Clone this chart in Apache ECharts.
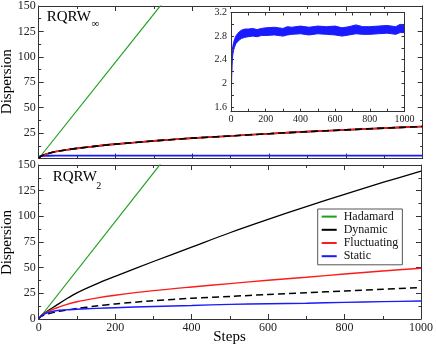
<!DOCTYPE html>
<html><head><meta charset="utf-8">
<script src="https://cdn.jsdelivr.net/npm/echarts@6/dist/echarts.min.js"></script>
<style>html,body{margin:0;padding:0;background:#fff}#c{width:436px;height:347px}</style>
</head><body><div id="c"></div>
<script>
// ---- data ----
const hadamardX = [0, 1000];
const hadamardY = [0, 474];

const stepsA = [0, 5, 10, 25, 45, 70, 100, 150, 200, 300, 400, 500, 600, 700, 800, 900, 1000];
// top panel (RQRW_inf): dynamic/fluctuating coincide with the diffusive reference
const topDiffusive = [0, 2.0, 3.0, 5.0, 6.8, 8.4, 10.0, 12.2, 14.1, 17.3, 20.0, 22.2, 24.4, 26.4, 28.2, 29.9, 31.5];
const topStatic    = [1.6, 2.3, 2.5, 2.7, 2.78, 2.8, 2.82, 2.84, 2.85, 2.86, 2.88, 2.88, 2.89, 2.89, 2.9, 2.9, 2.9];
// bottom panel (RQRW_2)
const botDynamic     = [0, 2.5, 4.3, 8.3, 13.0, 19.0, 25.5, 34.0, 41.5, 56.0, 70.0, 84.0, 97.0, 109.5, 121.5, 133.0, 144.0];
const botFluctuating = [0, 2.6, 4.3, 7.5, 10.5, 13.8, 16.8, 20.3, 23.1, 27.6, 31.2, 34.5, 37.7, 40.7, 43.8, 46.7, 49.5];
const botReference   = [0, 2.2, 3.2, 5.0, 6.9, 8.5, 10.2, 12.6, 14.7, 17.8, 20.2, 22.0, 23.9, 25.6, 27.3, 29.0, 30.6];
const botStatic      = [0, 2.5, 4.0, 6.3, 8.1, 8.9, 9.5, 10.3, 11.0, 12.2, 13.2, 14.2, 14.9, 15.4, 16.2, 16.9, 17.5];

// inset: static dispersion (noisy band envelope)
const insetX     = [0, 1, 2, 4, 6, 8, 10, 15, 20, 25, 30, 40, 50, 60, 80, 100, 125, 150, 175, 200, 250, 300, 325, 350, 400, 450, 500, 550, 600, 640, 680, 720, 760, 800, 850, 900, 950, 975, 1000];
const insetUpper = [1.60, 1.85, 2.05, 2.30, 2.47, 2.57, 2.62, 2.69, 2.74, 2.78, 2.81, 2.85, 2.88, 2.90, 2.92, 2.92, 2.93, 2.91, 2.93, 2.94, 2.95, 2.93, 2.96, 2.95, 2.97, 2.95, 2.97, 2.96, 2.97, 2.94, 2.96, 2.99, 2.96, 2.96, 2.97, 2.98, 2.96, 3.00, 2.97];
const insetLower = [1.52, 1.60, 1.85, 2.12, 2.30, 2.42, 2.48, 2.56, 2.61, 2.65, 2.68, 2.71, 2.74, 2.76, 2.78, 2.79, 2.80, 2.79, 2.81, 2.81, 2.82, 2.80, 2.82, 2.83, 2.84, 2.82, 2.84, 2.83, 2.82, 2.80, 2.82, 2.84, 2.83, 2.83, 2.84, 2.85, 2.83, 2.86, 2.86];

const xTicks = [0, 200, 400, 600, 800, 1000];
const yTicks = [0, 25, 50, 75, 100, 125, 150];
const insetYLabels = [1.6, 2, 2.4, 2.8, 3.2];
const insetYTicks = [1.6, 1.8, 2.0, 2.2, 2.4, 2.6, 2.8, 3.0, 3.2];

const legendNames = ['Hadamard', 'Dynamic', 'Fluctuating', 'Static'];
const colors = {Hadamard: '#1f9e1f', Dynamic: '#000000', Fluctuating: '#ff1a1a', Static: '#1a1aff'};

const FONT = 'Liberation Serif';
const AX = '#333';

function pairs(xs, ys) { return xs.map((x, i) => [x, ys[i]]); }

function xAxis(grid, pos, showLabel, fs, iv, tickLen, minorLen, max) {
  return {
    type: 'value', gridIndex: grid, position: pos, min: 0, max: max, interval: iv,
    axisLine: {show: true, onZero: false, lineStyle: {color: AX, width: 1}},
    axisTick: {show: true, inside: true, length: tickLen, lineStyle: {color: AX}},
    minorTick: {show: true, splitNumber: 2, length: minorLen, lineStyle: {color: AX}},
    splitLine: {show: false}, minorSplitLine: {show: false},
    axisLabel: {show: showLabel, fontFamily: FONT, fontSize: fs, color: '#222', margin: 3,
      formatter: v => String(v)}
  };
}
function yAxis(grid, pos, showLabel, hideZero) {
  return {
    type: 'value', gridIndex: grid, position: pos, min: 0, max: 150, interval: 25,
    axisLine: {show: true, onZero: false, lineStyle: {color: AX, width: 1}},
    axisTick: {show: true, inside: true, length: 5, lineStyle: {color: AX}},
    minorTick: {show: true, splitNumber: 2, length: 2.5, lineStyle: {color: AX}},
    splitLine: {show: false},
    axisLabel: {show: showLabel, fontFamily: FONT, fontSize: 12, color: '#222', margin: 3,
      formatter: v => (hideZero && v === 0) ? '' : String(v)}
  };
}
function insetY(pos, showLabel) {
  return {
    type: 'value', gridIndex: 2, position: pos, min: 1.52, max: 3.2,
    axisLine: {show: true, onZero: false, lineStyle: {color: AX, width: 1}},
    axisTick: {show: true, inside: true, length: 3, customValues: insetYTicks, lineStyle: {color: AX}},
    splitLine: {show: false},
    axisLabel: {show: showLabel, customValues: insetYLabels, fontFamily: FONT, fontSize: 10, color: '#222', margin: 4,
      formatter: v => String(v)}
  };
}

function line(name, xi, yi, data, color, width, dash, z) {
  return {
    name: name, type: 'line', xAxisIndex: xi, yAxisIndex: yi, data: data,
    showSymbol: false, symbol: 'none', smooth: 0.3, clip: true, z: z || 2,
    lineStyle: {color: color, width: width, type: dash || 'solid'},
    itemStyle: {color: color}, emphasis: {disabled: true}
  };
}

const series = [
  // top panel
  line('Hadamard', 0, 0, pairs(hadamardX, hadamardY), colors.Hadamard, 1.2),
  line('Dynamic', 0, 0, pairs(stepsA, topDiffusive), colors.Dynamic, 1.6),
  line('Fluctuating', 0, 0, pairs(stepsA, topDiffusive), colors.Fluctuating, 1.6, 'solid', 3),
  line('ref', 0, 0, pairs(stepsA, topDiffusive), '#000', 1.6, [7, 4], 4),
  line('Static', 0, 0, pairs(stepsA, topStatic), colors.Static, 1.8),
  // bottom panel
  line('Hadamard', 2, 2, pairs(hadamardX, hadamardY), colors.Hadamard, 1.2),
  line('Dynamic', 2, 2, pairs(stepsA, botDynamic), colors.Dynamic, 1.3),
  line('Fluctuating', 2, 2, pairs(stepsA, botFluctuating), colors.Fluctuating, 1.4),
  line('ref', 2, 2, pairs(stepsA, botReference), '#000', 1.5, [7, 4]),
  line('Static', 2, 2, pairs(stepsA, botStatic), colors.Static, 1.4),
  // inset band
  {
    name: 'insetStatic', type: 'custom', xAxisIndex: 4, yAxisIndex: 4, data: [[500, 2.9]],
    clip: true, silent: true, z: 5,
    renderItem: function (params, api) {
      const pts = [];
      for (let i = 0; i < insetX.length; i++) pts.push(api.coord([insetX[i], insetUpper[i]]));
      for (let i = insetX.length - 1; i >= 0; i--) pts.push(api.coord([insetX[i], insetLower[i]]));
      return {type: 'polygon', shape: {points: pts}, style: {fill: colors.Static, stroke: colors.Static, lineWidth: 1}};
    }
  }
];

const option = {
  animation: false,
  backgroundColor: '#fff',
  grid: [
    {left: 38.7, top: 5.5, width: 384, height: 153},
    {left: 38.7, top: 165, width: 384, height: 154},
    {left: 231, top: 12.5, width: 173.5, height: 99.2, show: true, backgroundColor: '#fff', borderWidth: 0, z: 4}
  ],
  xAxis: [
    xAxis(0, 'bottom', false, 12, 200, 5, 3, 1000),
    xAxis(0, 'top', false, 12, 200, 5, 3, 1000),
    xAxis(1, 'bottom', true, 12, 200, 5, 3, 1000),
    xAxis(1, 'top', false, 12, 200, 5, 3, 1000),
    Object.assign(xAxis(2, 'bottom', true, 10, 200, 3, 3, 1000), {z: 6}),
    Object.assign(xAxis(2, 'top', false, 10, 200, 3, 3, 1000), {z: 6})
  ],
  yAxis: [
    yAxis(0, 'left', true, true),
    yAxis(0, 'right', false, true),
    yAxis(1, 'left', true, false),
    yAxis(1, 'right', false, false),
    Object.assign(insetY('left', true), {z: 6}),
    Object.assign(insetY('right', false), {z: 6})
  ],
  legend: {
    data: legendNames.map(n => ({name: n, icon: 'rect'})), orient: 'vertical', left: 317.7, top: 209,
    backgroundColor: '#fff', borderColor: '#555', borderWidth: 1,
    padding: [1, 4, 2, 4], itemWidth: 15, itemHeight: 2, itemGap: 0,
    selectedMode: false,
    textStyle: {fontFamily: FONT, fontSize: 12, color: '#111', lineHeight: 13.2, padding: [0, 0, 0, 2]}
  },
  graphic: [
    {type: 'text', x: 46.7, y: 16.7, style: {text: 'RQRW', font: '15px ' + FONT, fill: '#000', verticalAlign: 'middle'}},
    {type: 'text', x: 91.5, y: 24.5, style: {text: '∞', font: '11px ' + FONT, fill: '#000', verticalAlign: 'middle'}},
    {type: 'text', x: 52.7, y: 177.5, style: {text: 'RQRW', font: '15px ' + FONT, fill: '#000', verticalAlign: 'middle'}},
    {type: 'text', x: 96.3, y: 186, style: {text: '2', font: '10px ' + FONT, fill: '#000', verticalAlign: 'middle'}},
    {type: 'text', x: 7.5, y: 81.7, rotation: Math.PI / 2, style: {text: 'Dispersion', font: '15px ' + FONT, fill: '#000', align: 'center', verticalAlign: 'middle'}},
    {type: 'text', x: 7.5, y: 242.5, rotation: Math.PI / 2, style: {text: 'Dispersion', font: '15px ' + FONT, fill: '#000', align: 'center', verticalAlign: 'middle'}},
    {type: 'text', x: 229.5, y: 337.5, style: {text: 'Steps', font: '15px ' + FONT, fill: '#000', align: 'center', verticalAlign: 'middle'}}
  ],
  series: series
};

const chart = echarts.init(document.getElementById('c'), null, {renderer: 'canvas'});
chart.setOption(option);
</script>
</body></html>
